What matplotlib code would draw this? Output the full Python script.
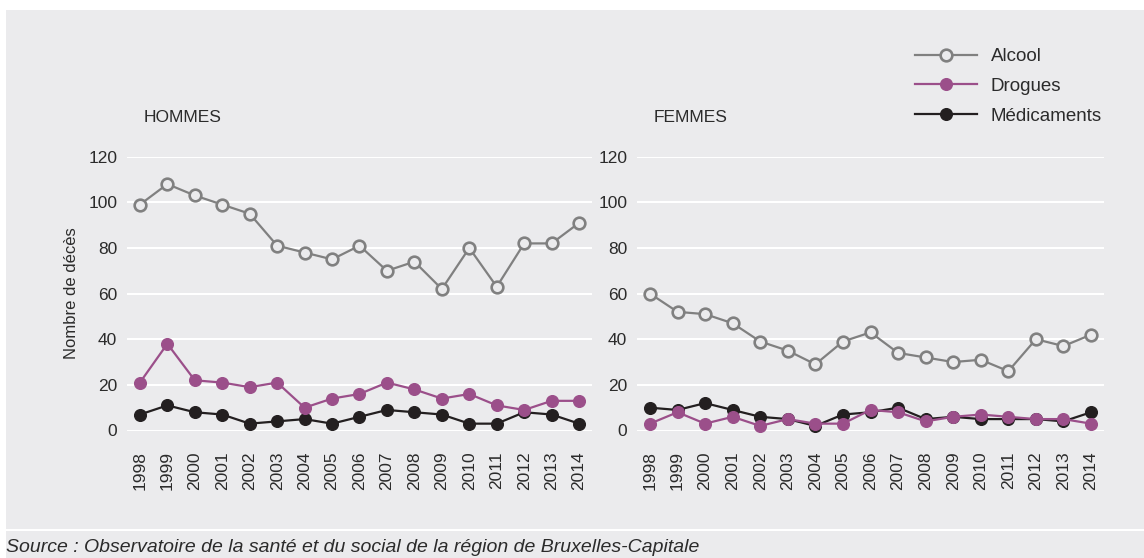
import matplotlib
matplotlib.use("Agg")
import matplotlib.pyplot as plt
from matplotlib.patches import Rectangle

plt.rcParams['font.family'] = ['Liberation Sans', 'DejaVu Sans']

years = list(range(1998, 2015))
year_labels = [str(y) for y in years]

hommes_alcool = [99, 108, 103, 99, 95, 81, 78, 75, 81, 70, 74, 62, 80, 63, 82, 82, 91]
hommes_drogues = [21, 38, 22, 21, 19, 21, 10, 14, 16, 21, 18, 14, 16, 11, 9, 13, 13]
hommes_medic = [7, 11, 8, 7, 3, 4, 5, 3, 6, 9, 8, 7, 3, 3, 8, 7, 3]

femmes_alcool = [60, 52, 51, 47, 39, 35, 29, 39, 43, 34, 32, 30, 31, 26, 40, 37, 42]
femmes_drogues = [3, 8, 3, 6, 2, 5, 3, 3, 9, 8, 4, 6, 7, 6, 5, 5, 3]
femmes_medic = [10, 9, 12, 9, 6, 5, 2, 7, 8, 10, 5, 6, 5, 5, 5, 4, 8]

yticks = [0, 20, 40, 60, 80, 100, 120]
series_names = ['Alcool', 'Drogues', 'Médicaments']

BG = '#ebebed'
TXT = '#2b2b2b'
C_ALC = '#808080'
C_DRG = '#9b4f8a'
C_MED = '#231f20'

W, H = 1144, 558
fig = plt.figure(figsize=(W / 100, H / 100), dpi=100)
fig.patch.set_facecolor('white')

def px(x0, y0, x1, y1):
    return [x0 / W, 1 - y1 / H, (x1 - x0) / W, (y1 - y0) / H]

# background panels
fig.patches.append(Rectangle((6 / W, 1 - 529 / H), (W - 6) / W, (529 - 10) / H,
                             transform=fig.transFigure, facecolor=BG, edgecolor='none', zorder=-5))
fig.patches.append(Rectangle((6 / W, 0), (W - 6) / W, (558 - 531) / H,
                             transform=fig.transFigure, facecolor=BG, edgecolor='none', zorder=-5))

def draw_panel(rect, alc, drg, med, title, ylabel=None):
    ax = fig.add_axes(rect)
    ax.set_facecolor('none')
    ax.set_xlim(1997.53, 2014.47)
    ax.set_ylim(0, 120)
    for s in ax.spines.values():
        s.set_visible(False)
    for t in yticks:
        ax.axhline(t, color='white', lw=1.5, zorder=1)
    ax.set_yticks(yticks)
    ax.set_yticklabels([str(t) for t in yticks])
    ax.set_xticks(years)
    ax.set_xticklabels(year_labels, rotation=90)
    ax.tick_params(axis='both', length=0, labelsize=12.5, colors=TXT)
    ax.tick_params(axis='y', pad=7)
    ax.tick_params(axis='x', pad=15)
    kw = dict(lw=1.6, markersize=8.4, clip_on=False)
    la, = ax.plot(years, alc, color=C_ALC, marker='o', markerfacecolor=BG,
                  markeredgecolor=C_ALC, markeredgewidth=1.9, zorder=3, **kw)
    lm, = ax.plot(years, med, color=C_MED, marker='o', markerfacecolor=C_MED,
                  markeredgecolor=C_MED, zorder=4, **kw)
    ld, = ax.plot(years, drg, color=C_DRG, marker='o', markerfacecolor=C_DRG,
                  markeredgecolor=C_DRG, zorder=5, **kw)
    ax.text(0.036, 1.144, title, transform=ax.transAxes, fontsize=12.5, color=TXT,
            ha='left', va='center')
    if ylabel:
        ax.set_ylabel(ylabel, fontsize=12, color=TXT, labelpad=7)
    return ax, (la, ld, lm)

axL, handles = draw_panel(px(127, 156.7, 592, 430.5), hommes_alcool, hommes_drogues,
                          hommes_medic, 'HOMMES', 'Nombre de décès')
axR, _ = draw_panel(px(637, 156.7, 1104, 430.5), femmes_alcool, femmes_drogues,
                    femmes_medic, 'FEMMES')

leg = fig.legend(handles, series_names, loc='upper left',
                 bbox_to_anchor=(915 / W, 1 - 48 / H), frameon=False,
                 fontsize=13.5, handlelength=3.3, handletextpad=0.75,
                 labelspacing=0.68, borderpad=0, borderaxespad=0)
for t in leg.get_texts():
    t.set_color(TXT)

fig.text(6 / W, 1 - 547 / H, 'Source : Observatoire de la santé et du social de la région de Bruxelles-Capitale',
         fontsize=14, style='italic', color=TXT, ha='left', va='center')

fig.savefig('out.png', dpi=100, facecolor=fig.get_facecolor())
